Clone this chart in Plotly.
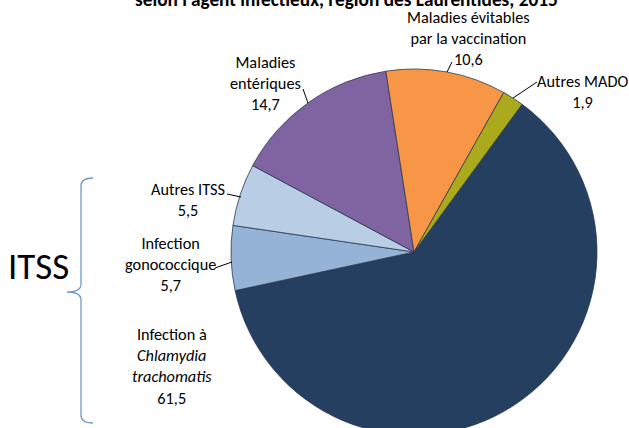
import plotly.graph_objects as go

# ── data ────────────────────────────────────────────────────────────────────
categories = [
    "Infection à Chlamydia trachomatis",
    "Infection gonococcique",
    "Autres ITSS",
    "Maladies entériques",
    "Maladies évitables par la vaccination",
    "Autres MADO",
]
label_lines = [
    "Infection à<br><i>Chlamydia</i><br><i>trachomatis</i>",
    "Infection<br>gonococcique",
    "Autres ITSS",
    "Maladies<br>entériques",
    "Maladies évitables<br>par la vaccination",
    "Autres MADO",
]
values = [61.5, 5.7, 5.5, 14.7, 10.6, 1.9]
title_text = "selon l'agent infectieux, région des Laurentides, 2015"
group_label = "ITSS"

# ── styling ─────────────────────────────────────────────────────────────────
colors = ["#243F60", "#95B3D7", "#B9CDE5", "#8064A2", "#F79646", "#ABAA1C"]
FONT = "Carlito, Calibri, 'Liberation Sans Narrow', sans-serif"
W, H = 629, 440          # page window is 428 tall; pie runs off the bottom edge

# label anchor (pixel coords, centre of the text block)
label_pos = [(172, 366), (170, 264), (188, 199), (265, 83), (468, 38), (582, 91)]
# leader lines (x0, y0, x1, y1) in pixels; None = no leader
leaders = [
    None,
    (215, 268, 232, 262),
    (227, 194, 241, 197),
    (303, 89, 308, 103),
    (452, 62, 447, 72),
    (537, 82, 513, 98),
]

# pie centre / radius in pixels
cx, cy, r = 414, 252, 183

fig = go.Figure()

fig.add_trace(
    go.Pie(
        labels=categories,
        values=values,
        sort=False,
        direction="clockwise",
        rotation=36.2,
        marker=dict(colors=colors, line=dict(color="#2A3A4F", width=0.8)),
        textinfo="none",
        hoverinfo="label+value",
        domain=dict(x=[(cx - r) / W, (cx + r) / W],
                    y=[1 - (cy + r) / H, 1 - (cy - r) / H]),
        showlegend=False,
    )
)

# invisible pixel-space axes for labels / decorations
fig.update_xaxes(range=[0, W], visible=False, fixedrange=True)
fig.update_yaxes(range=[H, 0], visible=False, fixedrange=True)

for txt, v, (x, y) in zip(label_lines, values, label_pos):
    fig.add_annotation(
        x=x, y=y, xref="x", yref="y",
        text=f"{txt}<br>{str(v).replace('.', ',')}",
        showarrow=False,
        align="center",
        font=dict(family=FONT, size=16.3, color="#000000"),
    )

for ld in leaders:
    if ld is None:
        continue
    x0, y0, x1, y1 = ld
    fig.add_shape(type="line", x0=x0, y0=y0, x1=x1, y1=y1, xref="x", yref="y",
                  line=dict(color="#000000", width=1))

# ITSS brace
bx, tip, top, mid, bot, hook = 81, 67, 178, 292, 423, 93
brace = (
    f"M {hook},{top} Q {bx},{top} {bx},{top + 8} L {bx},{mid - 8} "
    f"Q {bx},{mid} {tip},{mid} Q {bx},{mid} {bx},{mid + 8} "
    f"L {bx},{bot - 8} Q {bx},{bot} {hook},{bot}"
)
fig.add_shape(type="path", path=brace, xref="x", yref="y",
              line=dict(color="#7199CF", width=1.3))

fig.add_annotation(
    x=38, y=266, xref="x", yref="y", text=group_label, showarrow=False,
    font=dict(family=FONT, size=37, color="#000000"),
)

# title – only its lower part falls inside the page (cut off as in the source)
fig.add_annotation(
    x=346 / W, y=1 + 1 / H, xref="paper", yref="paper",
    text=f"<b>{title_text}</b>", showarrow=False,
    yanchor="middle",
    font=dict(family=FONT, size=19.3, color="#000000"),
)

fig.update_layout(
    width=W,
    height=H,
    margin=dict(l=0, r=0, t=0, b=0),
    paper_bgcolor="#FFFFFF",
    plot_bgcolor="#FFFFFF",
    showlegend=False,
)

fig.write_html(
    "out.html",
    config={"displayModeBar": False},
    post_script="document.body.style.margin='0';",
)
